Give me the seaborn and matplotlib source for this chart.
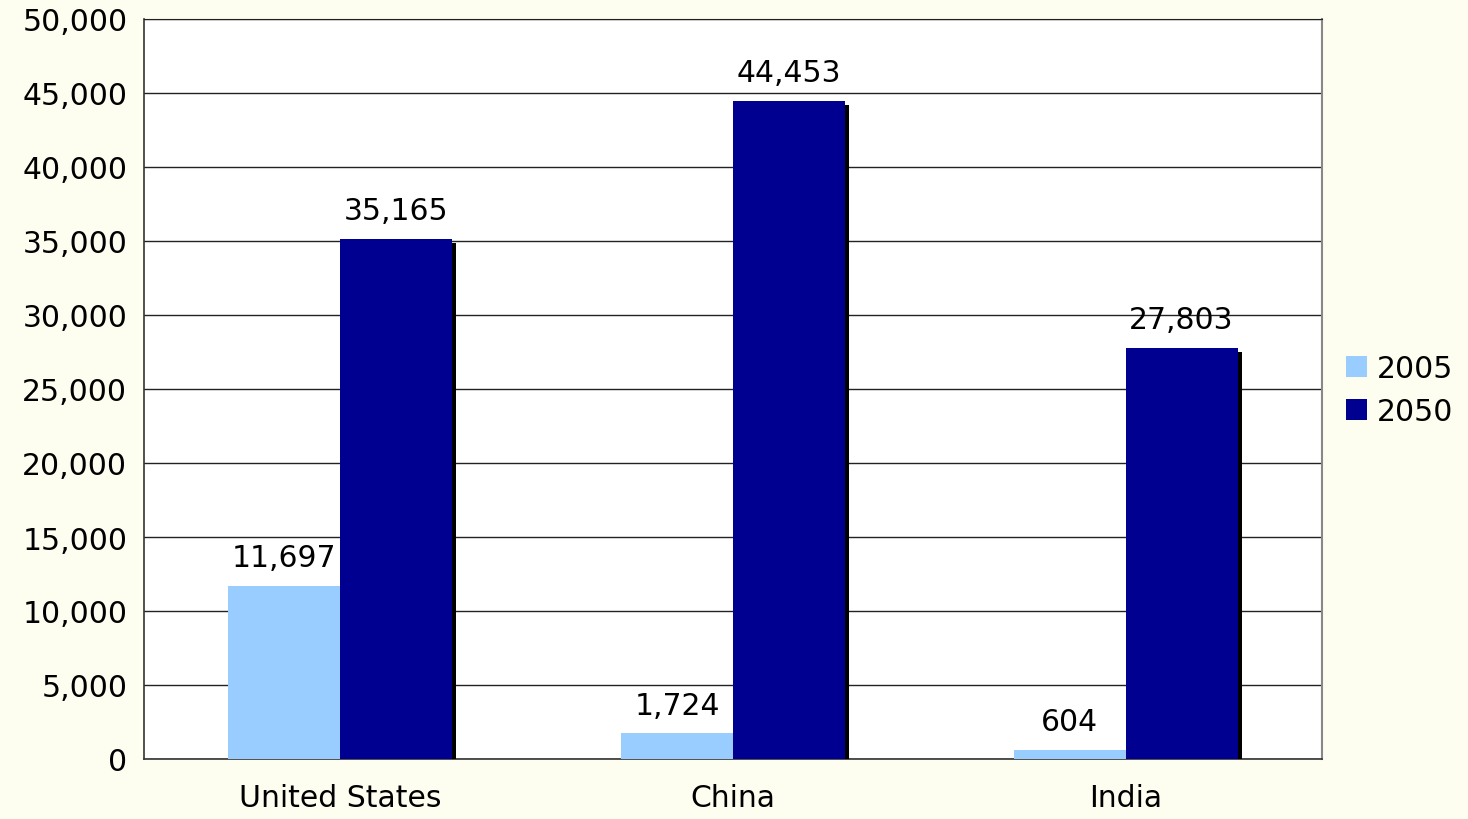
import numpy as np
import pandas as pd
import matplotlib
matplotlib.use('Agg')
import matplotlib.pyplot as plt
import matplotlib.patheffects as pe
from matplotlib.patches import Patch
from matplotlib.ticker import FuncFormatter, FixedLocator
import seaborn as sns

countries = ['United States', 'China', 'India']
years = ['2005', '2050']
gdp_2005 = [11697, 1724, 604]
gdp_2050 = [35165, 44453, 27803]
colors = ['#99CCFF', '#000090']

df = pd.DataFrame({
    'country': countries * 2,
    'year': ['2005'] * 3 + ['2050'] * 3,
    'value': gdp_2005 + gdp_2050,
})

sns.set_style('white')
plt.rcParams['font.family'] = ['DejaVu Sans']
fs = 21.5

fig = plt.figure(figsize=(14.68, 8.2), dpi=100)
fig.patch.set_facecolor('#FEFEF0')
ax = fig.add_axes([144/1468, 60/820, (1322-144)/1468, (760-20)/820])
ax.set_facecolor('white')

sns.barplot(data=df, x='country', y='value', hue='year', palette=colors,
            width=0.57, saturation=1, ax=ax, legend=False, zorder=3)

# excel-style drop shadow on the bars
for bar in ax.patches:
    bar.set_edgecolor('none')
    bar.set_path_effects([pe.SimplePatchShadow(offset=(3, -3), shadow_rgbFace='black', alpha=1),
                          pe.Normal()])

for cont in ax.containers:
    ax.bar_label(cont, labels=[f'{v:,.0f}' for v in cont.datavalues],
                 padding=10, fontsize=fs, color='black')

ax.set_ylim(0, 50000)
ax.set_xlim(-0.5, 2.5)
ax.yaxis.set_major_locator(FixedLocator(np.arange(0, 50001, 5000)))
ax.yaxis.set_major_formatter(FuncFormatter(lambda v, p: f'{v:,.0f}'))
ax.grid(axis='y', color='#222222', linewidth=1, zorder=0)
ax.set_axisbelow(True)

ax.set_xticks([0, 1, 2])
ax.set_xticklabels(countries)
ax.set_xticks([-0.5, 0.5, 1.5, 2.5], minor=True)
ax.tick_params(axis='x', which='major', length=0, pad=17, labelsize=fs, labelcolor='black')
ax.tick_params(axis='x', which='minor', length=10, width=1, color='#555555', direction='out')
ax.tick_params(axis='y', length=10, width=1, color='#555555', direction='out',
               labelsize=fs, labelcolor='black', pad=2)
ax.set_xlabel('')
ax.set_ylabel('')

for side in ['left', 'bottom']:
    ax.spines[side].set_color('#333333')
    ax.spines[side].set_linewidth(1.2)
ax.spines['top'].set_color('#222222')
ax.spines['right'].set_color('#888888')
ax.spines['right'].set_linewidth(1.5)

handles = [Patch(facecolor=c, edgecolor='none') for c in colors]
fig.legend(handles, years, loc='center left', bbox_to_anchor=(1340/1468, 1 - 391/820),
           frameon=False, fontsize=fs, labelcolor='black', handlelength=0.7, handleheight=0.7,
           handletextpad=0.35, labelspacing=0.45, borderaxespad=0, borderpad=0.2)

fig.savefig('out.png', dpi=100, facecolor=fig.get_facecolor())
